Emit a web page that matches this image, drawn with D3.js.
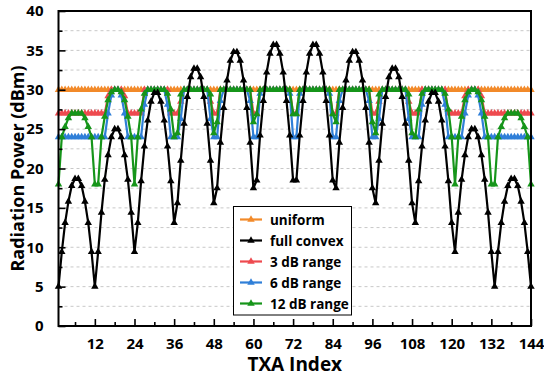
<!DOCTYPE html>
<html>
<head>
<meta charset="utf-8">
<script src="https://cdn.jsdelivr.net/npm/d3@7"></script>
<style>
  body { margin: 0; background: #fff; }
  svg text { font-family: "Open Sans", "DejaVu Sans", sans-serif; font-weight: 700; fill: #000; }
</style>
</head>
<body>
<script>
// TXA index 1..144 (12 x 12 array, row by row)
const txaIndex = d3.range(1, 145);

const uniform = [
  30, 30, 30, 30, 30, 30, 30, 30, 30, 30, 30, 30,
  30, 30, 30, 30, 30, 30, 30, 30, 30, 30, 30, 30,
  30, 30, 30, 30, 30, 30, 30, 30, 30, 30, 30, 30,
  30, 30, 30, 30, 30, 30, 30, 30, 30, 30, 30, 30,
  30, 30, 30, 30, 30, 30, 30, 30, 30, 30, 30, 30,
  30, 30, 30, 30, 30, 30, 30, 30, 30, 30, 30, 30,
  30, 30, 30, 30, 30, 30, 30, 30, 30, 30, 30, 30,
  30, 30, 30, 30, 30, 30, 30, 30, 30, 30, 30, 30,
  30, 30, 30, 30, 30, 30, 30, 30, 30, 30, 30, 30,
  30, 30, 30, 30, 30, 30, 30, 30, 30, 30, 30, 30,
  30, 30, 30, 30, 30, 30, 30, 30, 30, 30, 30, 30,
  30, 30, 30, 30, 30, 30, 30, 30, 30, 30, 30, 30
];

const fullConvex = [
  5, 9.4, 13.1, 15.8, 17.8, 18.7, 18.7, 17.8, 15.8, 13.1, 9.4, 5,
  9.4, 14.4, 18.6, 21.7, 24, 25, 25, 24, 21.7, 18.6, 14.4, 9.4,
  13.1, 18.4, 22.8, 26.1, 28.5, 29.6, 29.6, 28.5, 26.1, 22.8, 18.4, 13.1,
  15.6, 21, 25.7, 29.1, 31.6, 32.7, 32.7, 31.6, 29.1, 25.7, 21, 15.6,
  17.5, 23.3, 27.7, 31.2, 33.7, 34.8, 34.8, 33.7, 31.2, 27.7, 23.3, 17.5,
  18.5, 24.2, 28.6, 32.2, 34.6, 35.7, 35.7, 34.6, 32.2, 28.6, 24.2, 18.5,
  18.5, 24.2, 28.6, 32.2, 34.6, 35.7, 35.7, 34.6, 32.2, 28.6, 24.2, 18.5,
  17.5, 23.3, 27.7, 31.2, 33.7, 34.8, 34.8, 33.7, 31.2, 27.7, 23.3, 17.5,
  15.6, 21, 25.7, 29.1, 31.6, 32.7, 32.7, 31.6, 29.1, 25.7, 21, 15.6,
  13.1, 18.4, 22.8, 26.1, 28.5, 29.6, 29.6, 28.5, 26.1, 22.8, 18.4, 13.1,
  9.4, 14.4, 18.6, 21.7, 24, 25, 25, 24, 21.7, 18.6, 14.4, 9.4,
  5, 9.4, 13.1, 15.8, 17.8, 18.7, 18.7, 17.8, 15.8, 13.1, 9.4, 5
];

const range3dB = [
  27, 27, 27, 27, 27, 27, 27, 27, 27, 27, 27, 27,
  27, 27, 27, 29.2, 30, 30, 30, 30, 29.2, 27, 27, 27,
  27, 27, 30, 30, 30, 30, 30, 30, 30, 30, 27, 27,
  27, 28.5, 30, 30, 30, 30, 30, 30, 30, 30, 28.5, 27,
  27, 30, 30, 30, 30, 30, 30, 30, 30, 30, 30, 27,
  27, 30, 30, 30, 30, 30, 30, 30, 30, 30, 30, 27,
  27, 30, 30, 30, 30, 30, 30, 30, 30, 30, 30, 27,
  27, 30, 30, 30, 30, 30, 30, 30, 30, 30, 30, 27,
  27, 28.5, 30, 30, 30, 30, 30, 30, 30, 30, 28.5, 27,
  27, 27, 30, 30, 30, 30, 30, 30, 30, 30, 27, 27,
  27, 27, 27, 29.2, 30, 30, 30, 30, 29.2, 27, 27, 27,
  27, 27, 27, 27, 27, 27, 27, 27, 27, 27, 27, 27
];

const range6dB = [
  24, 24, 24, 24, 24, 24, 24, 24, 24, 24, 24, 24,
  24, 24, 24, 27, 29.3, 30, 30, 29.3, 27, 24, 24, 24,
  24, 24, 28.1, 30, 30, 30, 30, 30, 30, 28.1, 24, 24,
  24, 26.3, 30, 30, 30, 30, 30, 30, 30, 30, 26.3, 24,
  24, 28.6, 30, 30, 30, 30, 30, 30, 30, 30, 28.6, 24,
  24, 29.5, 30, 30, 30, 30, 30, 30, 30, 30, 29.5, 24,
  24, 29.5, 30, 30, 30, 30, 30, 30, 30, 30, 29.5, 24,
  24, 28.6, 30, 30, 30, 30, 30, 30, 30, 30, 28.6, 24,
  24, 26.3, 30, 30, 30, 30, 30, 30, 30, 30, 26.3, 24,
  24, 24, 28.1, 30, 30, 30, 30, 30, 30, 28.1, 24, 24,
  24, 24, 24, 27, 29.3, 30, 30, 29.3, 27, 24, 24, 24,
  24, 24, 24, 24, 24, 24, 24, 24, 24, 24, 24, 24
];

const range12dB = [
  18, 24, 25.3, 26.4, 27, 27, 27, 27, 26.4, 25.3, 24, 18,
  18, 24, 26.6, 28.7, 29.7, 30, 30, 29.7, 28.7, 26.6, 24, 18,
  24, 27.5, 29.5, 30, 30, 30, 30, 30, 30, 29.5, 27.5, 24,
  24.5, 29.4, 30, 30, 30, 30, 30, 30, 30, 30, 29.4, 24.5,
  25.9, 30, 30, 30, 30, 30, 30, 30, 30, 30, 30, 25.9,
  26.9, 30, 30, 30, 30, 30, 30, 30, 30, 30, 30, 26.9,
  26.9, 30, 30, 30, 30, 30, 30, 30, 30, 30, 30, 26.9,
  25.9, 30, 30, 30, 30, 30, 30, 30, 30, 30, 30, 25.9,
  24.5, 29.4, 30, 30, 30, 30, 30, 30, 30, 30, 29.4, 24.5,
  24, 27.5, 29.5, 30, 30, 30, 30, 30, 30, 29.5, 27.5, 24,
  18, 24, 26.6, 28.7, 29.7, 30, 30, 29.7, 28.7, 26.6, 24, 18,
  18, 24, 25.3, 26.4, 27, 27, 27, 27, 26.4, 25.3, 24, 18
];

const xTicks = [12, 24, 36, 48, 60, 72, 84, 96, 108, 120, 132, 144];
const yTicks = [0, 5, 10, 15, 20, 25, 30, 35, 40];

// drawing order: the black curve ends up on top
const series = [
  { name: "uniform", values: uniform, color: "#f28a2a" },
  { name: "3 dB range", values: range3dB, color: "#ee4a4f" },
  { name: "6 dB range", values: range6dB, color: "#2f7fd8" },
  { name: "12 dB range", values: range12dB, color: "#16951a" },
  { name: "full convex", values: fullConvex, color: "#000000" }
];
const legendOrder = ["uniform", "full convex", "3 dB range", "6 dB range", "12 dB range"];

const width = 544, height = 376;
const mLeft = 58.5, mRight = 531, mTop = 11, mBottom = 326;

const svg = d3.select("body").append("svg")
  .attr("width", width)
  .attr("height", height);

const x = d3.scaleLinear().domain([1, 144]).range([mLeft, mRight]);
const y = d3.scaleLinear().domain([0, 40]).range([mBottom, mTop]);

// dashed grid every 2.5 dBm
svg.append("g")
  .selectAll("line")
  .data(d3.range(2.5, 40, 2.5))
  .join("line")
  .attr("x1", mLeft).attr("x2", mRight)
  .attr("y1", d => y(d)).attr("y2", d => y(d))
  .attr("stroke", "#c8c8c8")
  .attr("stroke-width", 1)
  .attr("stroke-dasharray", "3,3");

const tri = d3.symbol().type(d3.symbolTriangle).size(24);
const line = d3.line().x((d, i) => x(txaIndex[i])).y(d => y(d));

const plot = svg.append("g");
series.forEach(s => {
  const g = plot.append("g");
  g.append("path")
    .attr("d", line(s.values))
    .attr("fill", "none")
    .attr("stroke", s.color)
    .attr("stroke-width", 2.2)
    .attr("stroke-linejoin", "round");
  g.selectAll("path.m")
    .data(s.values)
    .join("path")
    .attr("class", "m")
    .attr("transform", (d, i) => `translate(${x(txaIndex[i])},${y(d)})`)
    .attr("d", tri)
    .attr("fill", s.color);
});

// axes, ticks pointing inward
const xAxis = d3.axisBottom(x).tickValues(xTicks).tickSizeInner(-7).tickSizeOuter(0).tickPadding(12);
const gx = svg.append("g").attr("transform", `translate(0,${mBottom})`).call(xAxis);
gx.select(".domain").remove();
gx.selectAll("text").style("font-size", "15px");
gx.selectAll("line").attr("stroke-width", 1.6);

const xMinor = d3.axisBottom(x).tickValues(d3.range(6, 144, 12)).tickSize(-4).tickFormat("");
const gxm = svg.append("g").attr("transform", `translate(0,${mBottom})`).call(xMinor);
gxm.select(".domain").remove();
gxm.selectAll("line").attr("stroke-width", 1.6);

const yAxis = d3.axisLeft(y).tickValues(yTicks).tickSizeInner(-7).tickSizeOuter(0).tickPadding(15);
const gy = svg.append("g").attr("transform", `translate(${mLeft},0)`).call(yAxis);
gy.select(".domain").remove();
gy.selectAll("text").style("font-size", "15px");
gy.selectAll("line").attr("stroke-width", 1.6);

const yMinor = d3.axisLeft(y).tickValues(d3.range(2.5, 40, 5)).tickSize(-4).tickFormat("");
const gym = svg.append("g").attr("transform", `translate(${mLeft},0)`).call(yMinor);
gym.select(".domain").remove();
gym.selectAll("line").attr("stroke-width", 1.6);

// frame
svg.append("rect")
  .attr("x", mLeft).attr("y", mTop)
  .attr("width", mRight - mLeft).attr("height", mBottom - mTop)
  .attr("fill", "none")
  .attr("stroke", "#000")
  .attr("stroke-width", 2);

// axis titles
svg.append("text")
  .attr("x", (mLeft + mRight) / 2).attr("y", 371)
  .attr("text-anchor", "middle")
  .style("font-size", "19px")
  .text("TXA Index");

svg.append("text")
  .attr("transform", `translate(24,${(mTop + mBottom) / 2}) rotate(-90)`)
  .attr("text-anchor", "middle")
  .style("font-size", "18px")
  .text("Radiation Power (dBm)");

// legend
const lg = svg.append("g");
lg.append("rect")
  .attr("x", 233.5).attr("y", 206.5)
  .attr("width", 118).attr("height", 108.5)
  .attr("fill", "#fff")
  .attr("stroke", "#000")
  .attr("stroke-width", 1);

legendOrder.forEach((name, i) => {
  const s = series.find(d => d.name === name);
  const ly = 219.5 + i * 21;
  lg.append("line")
    .attr("x1", 240).attr("x2", 262)
    .attr("y1", ly).attr("y2", ly)
    .attr("stroke", s.color).attr("stroke-width", 2.2);
  lg.append("path")
    .attr("transform", `translate(251,${ly})`)
    .attr("d", tri)
    .attr("fill", s.color);
  lg.append("text")
    .attr("x", 270).attr("y", ly + 5)
    .style("font-size", "13.5px")
    .text(name);
});
</script>
</body>
</html>
